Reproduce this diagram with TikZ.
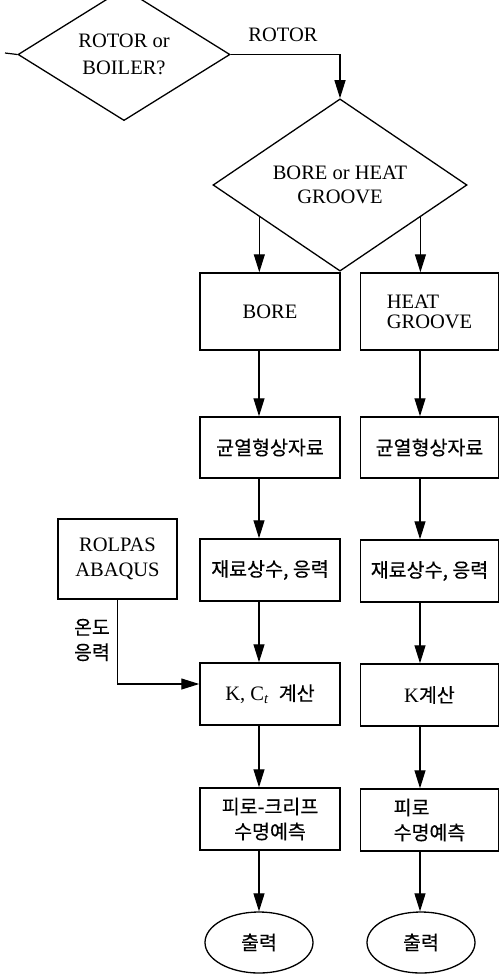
\documentclass[tikz,border=0pt]{standalone}
\usepackage{fontspec}
\setmainfont{Liberation Serif}
\newfontfamily\kr[FakeBold=0.3]{Noto Sans CJK KR}
\usetikzlibrary{arrows.meta,shapes.geometric,calc}
\newcommand\krtxt[1]{{\kr\fontsize{19.5}{25}\selectfont #1}}
\begin{document}
\begin{tikzpicture}[x=1pt,y=-1pt,
  every node/.style={font=\fontsize{20.5}{25}\selectfont},
  box/.style={draw, line width=1.5pt, rectangle, inner sep=0pt, align=center},
  lbox/.style={box, minimum width=140pt},
  rbox/.style={box, minimum width=138pt},
  dia/.style={draw, line width=1.3pt, diamond, inner sep=0pt, align=center},
  oval/.style={draw, line width=1.3pt, ellipse, inner sep=0pt, minimum width=108pt, minimum height=61pt},
  arr/.style={line width=1.2pt, -{Triangle[length=18pt,width=11pt]}},
  ln/.style={line width=1.2pt},
  kor/.style={font=\kr\fontsize{19.5}{25}\selectfont}
]
\useasboundingbox (0,0) rectangle (499,975);
\fill[white] (0,0) rectangle (499,975);

% decisions
\node[dia, minimum width=212pt, minimum height=95pt, font=\fontsize{20.5}{27}\selectfont] (d1) at (124,54.5) {ROTOR or\\BOILER?};
\node[dia, minimum width=254pt, minimum height=116pt, font=\fontsize{20.5}{24}\selectfont] (d2) at (340,185) {BORE or HEAT\\GROOVE};
\coordinate (in) at (5,53);
\draw[ln] (in) -- (d1.west);
\draw[arr] (d1.east) -| (d2.north);
\node (rotor) at (283,35) {ROTOR};

% column coordinates
\coordinate (L) at (259,0);
\coordinate (R) at (420,0);
\coordinate (h) at (0,684);

% left column
\node[lbox, minimum height=77pt] (boreL) at (270,311.5) {BORE};
\node[lbox, minimum height=61pt, kor] (crL) at (270,447.5) {균열형상자료};
\node[lbox, minimum height=62pt, kor] (mtL) at (270,570) {재료상수, 응력};
\node[lbox, minimum height=62pt] (kL) at (270,694) {K, C\textsubscript{\itshape t}\ \ \krtxt{계산}};
\node[lbox, minimum height=62pt, kor] (fL) at (270,819) {피로-크리프\\수명예측};
\node[oval, kor] (oL) at (259,942.5) {출력};

% right column
\node[rbox, minimum height=77pt, align=left, font=\fontsize{20.5}{20}\selectfont] (hgR) at (429.5,311.5) {HEAT\\GROOVE};
\node[rbox, minimum height=61pt, kor] (crR) at (429.5,447.5) {균열형상자료};
\node[rbox, minimum height=62pt, kor] (mtR) at (429.5,571) {재료상수, 응력};
\node[rbox, minimum height=62pt] (kR) at (429.5,695) {K\krtxt{계산}};
\node[rbox, minimum height=62pt, kor, align=left] (fR) at (429.5,820) {피로\\수명예측};
\node[oval, kor] (oR) at (421,942.5) {출력};

% side input
\node[box, minimum width=119pt, minimum height=80pt] (rol) at (117.5,559) {ROLPAS\\ABAQUS};
\node[kor, align=center] (tmp) at (92,640) {온도\\응력};

% connectors from d2
\coordinate (pL) at ($(d2.west)!0.368!(d2.south)$);
\coordinate (pR) at ($(d2.east)!0.37!(d2.south)$);
\draw[arr] (pL) -- (pL |- boreL.north);
\draw[arr] (pR) -- (pR |- hgR.north);

% left chain
\draw[arr] (boreL.south -| L) -- (crL.north -| L);
\draw[arr] (crL.south -| L) -- (mtL.north -| L);
\draw[arr] (mtL.south -| L) -- (kL.north -| L);
\draw[arr] (kL.south -| L) -- (fL.north -| L);
\draw[arr] (fL.south -| L) -- (oL.north);

% right chain
\draw[arr] (hgR.south -| R) -- (crR.north -| R);
\draw[arr] (crR.south -| R) -- (mtR.north -| R);
\draw[arr] (mtR.south -| R) -- (kR.north -| R);
\draw[arr] (kR.south -| R) -- (fR.north -| R);
\draw[arr] (fR.south -| R) -- (oR.north -| R);

% side input arrow
\draw[arr] (rol.south) |- (kL.west |- h);
\end{tikzpicture}
\end{document}
